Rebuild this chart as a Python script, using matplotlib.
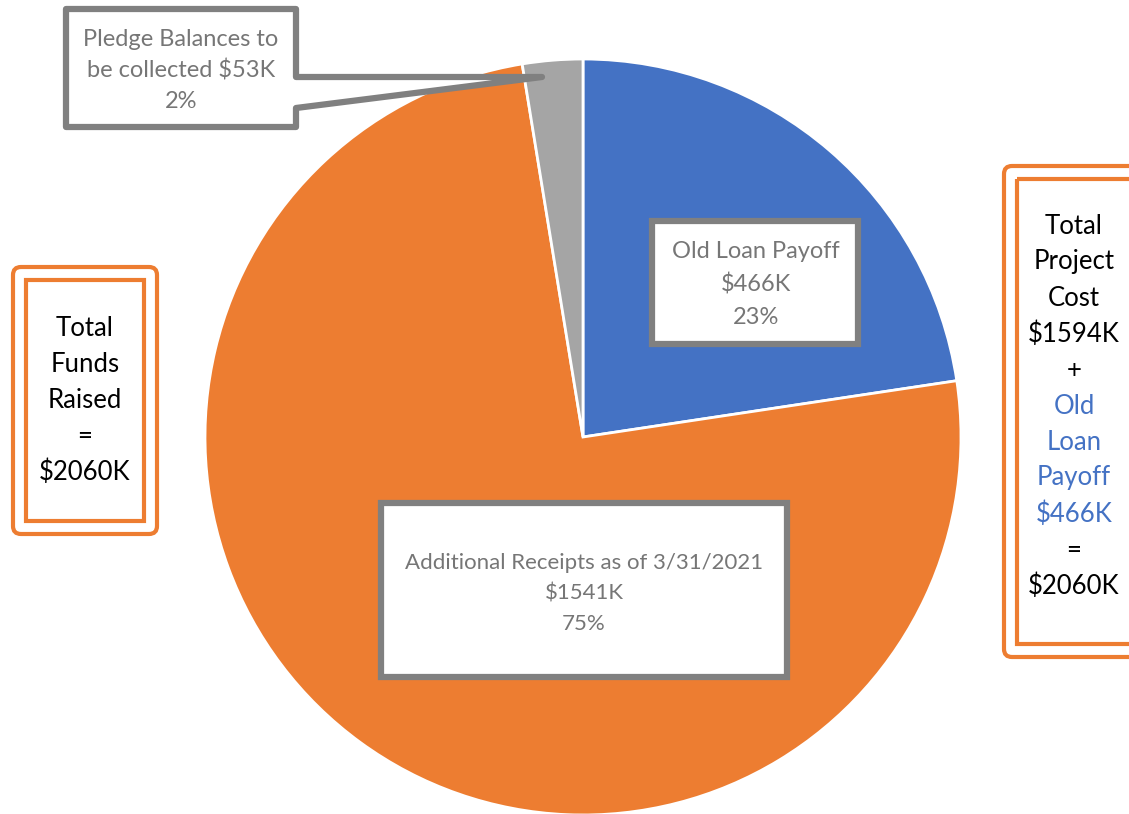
import matplotlib.pyplot as plt
from matplotlib.patches import Polygon, Rectangle, FancyBboxPatch

# dados (em milhares de dólares)
categorias = ["Old Loan Payoff", "Additional Receipts as of 3/31/2021",
              "Pledge Balances to be collected"]
valores = [466, 1541, 53]
percentuais = ["23%", "75%", "2%"]
cores = ["#4472C4", "#ED7D31", "#A5A5A5"]
custo_projeto = 1594
total = 2060

W, H = 1129, 814
plt.rcParams["font.family"] = ["Lato", "DejaVu Sans"]
cinza_txt = "#767676"
cinza_borda = "#808080"
laranja = "#ED7D31"

fig = plt.figure(figsize=(W / 100, H / 100), dpi=100)
ax = fig.add_axes([0, 0, 1, 1])

# pizza (eixo y invertido: sentido horário visual = counterclock em dados)
ax.pie(valores, colors=cores, startangle=-90, counterclock=True,
       center=(583, 437), radius=378,
       wedgeprops=dict(edgecolor="white", linewidth=2))
ax.set_xlim(0, W)
ax.set_ylim(H, 0)
ax.set_aspect("equal")
ax.axis("off")


def linhas_texto(x, y0, passo, linhas, cores_linhas, tam):
    for i, (t, c) in enumerate(zip(linhas, cores_linhas)):
        ax.text(x, y0 + passo * i, t, ha="center", va="center",
                fontsize=tam, color=c, zorder=7)


# %% rótulos das fatias
def caixa(x0, y0, x1, y1):
    ax.add_patch(Rectangle((x0, y0), x1 - x0, y1 - y0, facecolor="white",
                           edgecolor=cinza_borda, linewidth=4.5, zorder=5))

caixa(652, 221, 858, 344)
linhas_texto(756, 252, 32.5, [categorias[0], f"${valores[0]}K", percentuais[0]],
             [cinza_txt] * 3, 17)

caixa(381, 503, 787, 677)
linhas_texto(584, 563, 30.5, [categorias[1], f"${valores[1]}K", percentuais[1]],
             [cinza_txt] * 3, 16)

# callout da fatia cinza
callout = Polygon([(66, 9), (296, 9), (296, 77), (542, 77), (296, 108),
                   (296, 127), (66, 127)], closed=True, facecolor="white",
                  edgecolor=cinza_borda, linewidth=4.5, joinstyle="round",
                  zorder=5)
ax.add_patch(callout)
linhas_texto(181, 40, 31, ["Pledge Balances to",
                           f"be collected ${valores[2]}K", percentuais[2]],
             [cinza_txt] * 3, 17)

# %% caixas laterais com borda dupla laranja
def borda_dupla(x0, y0, x1, y1):
    ax.add_patch(FancyBboxPatch((x0, y0), x1 - x0, y1 - y0,
                                boxstyle="round,pad=0,rounding_size=8",
                                facecolor="white", edgecolor=laranja,
                                linewidth=3, zorder=5))
    ax.add_patch(Rectangle((x0 + 13, y0 + 13), x1 - x0 - 26, y1 - y0 - 26,
                           facecolor="none", edgecolor=laranja,
                           linewidth=3, zorder=6))

borda_dupla(13, 267, 157, 534)
linhas_texto(85, 328, 36, ["Total", "Funds", "Raised", "=", f"${total}K"],
             ["black"] * 5, 18.5)

borda_dupla(1004, 166, 1145, 657)
linhas = ["Total", "Project", "Cost", f"${custo_projeto}K", "+",
          "Old", "Loan", "Payoff", f"${valores[0]}K", "=", f"${total}K"]
cores_dir = ["#4472C4" if 5 <= i <= 8 else "black" for i in range(len(linhas))]
linhas_texto(1074, 226, 36, linhas, cores_dir, 18.5)

fig.savefig("out.png", dpi=100)
